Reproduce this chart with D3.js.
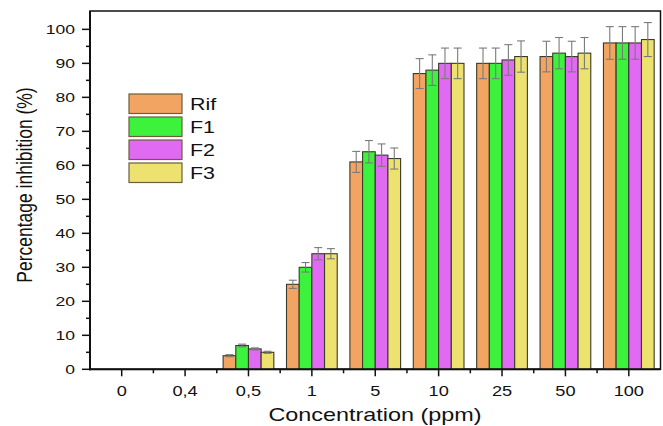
<!DOCTYPE html>
<html>
<head>
<meta charset="utf-8">
<script src="https://cdn.jsdelivr.net/npm/d3@7"></script>
<style>
  body { margin: 0; background: #fff; }
  text { font-family: "Liberation Sans", Arial, sans-serif; fill: #111; }
</style>
</head>
<body>
<div id="chart"></div>
<script>
// data
var categories = ["0", "0,4", "0,5", "1", "5", "10", "25", "50", "100"];
var series = ["Rif", "F1", "F2", "F3"];
var rif = [0, 0, 4, 25, 61, 87, 90, 92, 96];
var f1  = [0, 0, 7, 30, 64, 88, 90, 93, 96];
var f2  = [0, 0, 6, 34, 63, 90, 91, 92, 96];
var f3  = [0, 0, 5, 34, 62, 90, 92, 93, 97];
var rifErr = [0, 0, 0.3, 1.2, 3.1, 4.4, 4.5, 4.5, 4.8];
var f1Err  = [0, 0, 0.4, 1.4, 3.3, 4.5, 4.5, 4.6, 4.8];
var f2Err  = [0, 0, 0.3, 1.8, 3.3, 4.5, 4.5, 4.5, 4.8];
var f3Err  = [0, 0, 0.3, 1.5, 3.1, 4.5, 4.6, 4.6, 5.0];
var yTicks = [0, 10, 20, 30, 40, 50, 60, 70, 80, 90, 100];

var colors = ["#F2A463", "#3CF23C", "#E06AF2", "#EDE16F"];
var values = [rif, f1, f2, f3];
var errs = [rifErr, f1Err, f2Err, f3Err];

var width = 663, height = 426;
var mLeft = 90, mRight = 660.5, mTop = 11, mBottom = 369.3;
var sx = 1.3; // the picture is stretched sideways, so is the text

var svg = d3.select("#chart").append("svg")
    .attr("width", width)
    .attr("height", height);

var x = d3.scaleBand().domain(categories).range([mLeft, mRight]).padding(0);
var y = d3.scaleLinear().domain([0, 105.4]).range([mBottom, mTop]);
var xs = d3.scaleBand().domain(series)
    .range([x.bandwidth() * 0.1, x.bandwidth() * 0.9]);

// frame
svg.append("rect")
    .attr("x", mLeft).attr("y", mTop)
    .attr("width", mRight - mLeft).attr("height", mBottom - mTop)
    .attr("fill", "none").attr("stroke", "#111").attr("stroke-width", 1.5);

// bars
var rows = [];
categories.forEach(function(c, i) {
    series.forEach(function(s, j) {
        if (values[j][i] > 0) rows.push({cat: c, s: s, j: j, v: values[j][i], e: errs[j][i]});
    });
});

svg.append("g").selectAll("rect")
    .data(rows).enter().append("rect")
    .attr("x", d => x(d.cat) + xs(d.s))
    .attr("y", d => y(d.v))
    .attr("width", xs.bandwidth())
    .attr("height", d => y(0) - y(d.v))
    .attr("fill", d => colors[d.j])
    .attr("stroke", "#3a3a2a")
    .attr("stroke-width", 1.1);

// error bars
var eb = svg.append("g").attr("stroke", "#7a7a7a").attr("stroke-width", 1.1);
rows.forEach(function(d) {
    var cx = x(d.cat) + xs(d.s) + xs.bandwidth() / 2;
    var lo = y(d.v - d.e), hi = y(d.v + d.e);
    eb.append("line").attr("x1", cx).attr("x2", cx).attr("y1", lo).attr("y2", hi);
    eb.append("line").attr("x1", cx - 4).attr("x2", cx + 4).attr("y1", hi).attr("y2", hi);
    eb.append("line").attr("x1", cx - 4).attr("x2", cx + 4).attr("y1", lo).attr("y2", lo);
});

// axes lines
svg.append("line").attr("x1", mLeft).attr("x2", mLeft).attr("y1", mTop).attr("y2", mBottom + 1)
    .attr("stroke", "#111").attr("stroke-width", 2);
svg.append("line").attr("x1", mLeft - 1).attr("x2", mRight).attr("y1", mBottom).attr("y2", mBottom)
    .attr("stroke", "#111").attr("stroke-width", 2);

// y ticks
var tg = svg.append("g").attr("stroke", "#111").attr("stroke-width", 1.5);
d3.range(0, 101, 5).forEach(function(v) {
    var major = v % 10 == 0;
    tg.append("line").attr("x1", mLeft).attr("x2", mLeft - (major ? 8 : 4))
        .attr("y1", y(v)).attr("y2", y(v));
});
// x ticks: major at the centres, minor at the band edges
categories.forEach(function(c) {
    var cx = x(c) + x.bandwidth() / 2;
    tg.append("line").attr("x1", cx).attr("x2", cx).attr("y1", mBottom).attr("y2", mBottom + 7);
});
categories.slice(1).forEach(function(c) {
    tg.append("line").attr("x1", x(c)).attr("x2", x(c)).attr("y1", mBottom).attr("y2", mBottom + 4);
});

function label(px, py, txt, size, anchor, rot) {
    var t = "translate(" + px + "," + py + ") scale(" + sx + ",1)" + (rot ? " rotate(" + rot + ")" : "");
    return svg.append("text")
        .attr("transform", t)
        .attr("text-anchor", anchor)
        .style("font-size", size + "px")
        .text(txt);
}

yTicks.forEach(function(v) {
    label(75, y(v) + 5, v, 13.5, "end");
});
categories.forEach(function(c) {
    label(x(c) + x.bandwidth() / 2, 396, c, 14, "middle");
});

label(375, 421, "Concentration (ppm)", 18, "middle");
label(32, 185, "Percentage inhibition (%)", 17.5, "middle", -90);

// legend
var lg = svg.append("g");
series.forEach(function(s, j) {
    var ly = 94 + j * 23;
    lg.append("rect")
        .attr("x", 129).attr("y", ly)
        .attr("width", 53).attr("height", 19.5)
        .attr("fill", colors[j])
        .attr("stroke", "#6b5e3c").attr("stroke-width", 1.2);
    label(190, ly + 16, s, 16.5, "start");
});
</script>
</body>
</html>
